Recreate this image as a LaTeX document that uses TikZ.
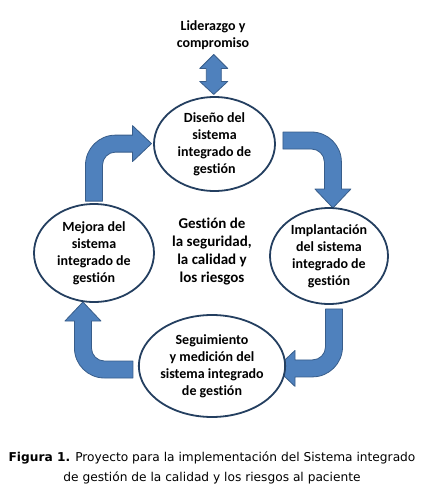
\documentclass[tikz,border=0pt]{standalone}
\usepackage{fontspec}
\setmainfont{Carlito}[Ligatures=CommonOff]
\newfontfamily\capfont{DejaVu Sans}
\usepackage{tikz}
\usetikzlibrary{positioning,calc,shapes.geometric,backgrounds}
\definecolor{cycleblue}{HTML}{4F81BD}
\definecolor{cycleedge}{HTML}{385D8A}
\definecolor{cyclenavy}{HTML}{243F60}

\begin{document}
\begin{tikzpicture}[
  x=1pt, y=1pt,
  phase/.style={ellipse, draw=cyclenavy, line width=1.8pt, fill=white, inner sep=0pt, align=center, font=\fontsize{14}{17}\selectfont\bfseries},
  note/.style={align=center, font=\fontsize{14}{16.5}\selectfont\bfseries},
  blockarr/.style={fill=cycleblue, draw=cycleedge, line width=0.8pt, line join=round},
  pics/bentarrow/.style 2 args={code={
    \path[blockarr] (8.5,0) -- (-8.5,0) -- (-8.5,#1-21.5)
      .. controls (-8.5,#1-4.94) and (4.94,#1+8.5) .. (21.5,#1+8.5)
      -- (#2-19,#1+8.5) -- (#2-19,#1+18) -- (#2,#1) -- (#2-19,#1-18) -- (#2-19,#1-8.5)
      -- (21.5,#1-8.5) .. controls (14.32,#1-8.5) and (8.5,#1-14.32) .. (8.5,#1-21.5) -- cycle;
  }},
  pics/updown/.style={code={
    \path[blockarr] (0,20) -- (14,6) -- (7.5,6) -- (7.5,-7) -- (14,-7) -- (0,-20)
      -- (-14,-7) -- (-7.5,-7) -- (-7.5,6) -- (-14,6) -- cycle;
  }}
]
\useasboundingbox (0,0) rectangle (428,-493);

\node[note] (lider) at (213,-35) {Liderazgo y\\compromiso};

\node[phase, minimum width=121, minimum height=94] (diseno) at (214.5,-144) {Diseño del\\sistema\\integrado de\\gestión};
\node[phase, minimum width=120, minimum height=98] (mejora) at (94,-253) {Mejora del\\sistema\\integrado de\\gestión};
\node[phase, minimum width=118, minimum height=96] (implant) at (329,-256) {Implantación\\del sistema\\integrado de\\gestión};
\node[phase, minimum width=124, minimum height=102] (seguim) at (212,-366) {Seguimiento\\y medición del\\sistema integrado\\de gestión};

\node[align=center, font=\fontsize{15}{18.3}\selectfont\bfseries] (centro) at (212,-251.5) {Gestión de\\la seguridad,\\la calidad y\\los riesgos};

% block arrows sit behind the ellipses
\begin{pgfonlayer}{background}
  \pic at ($(lider.south)!0.5!(diseno.north)$) {updown};
  \pic at ([yshift=2pt]mejora.north) {bentarrow={57.5}{57.5}};
  \pic[rotate=-90] at ([xshift=7pt, yshift=3.5pt]diseno.east) {bentarrow={50}{67.5}};
  \pic[rotate=180] at ([xshift=5pt, yshift=-4pt]implant.south) {bentarrow={59.5}{58}};
  \pic[rotate=90] at ([xshift=-5pt, yshift=-3.5pt]seguim.west) {bentarrow={50}{67.5}};
\end{pgfonlayer}

\node[align=center, font=\capfont\fontsize{12.2}{20}\selectfont] (caption) at (212,-468)
  {\textbf{Figura 1.} Proyecto para la implementación del Sistema integrado\\de gestión de la calidad y los riesgos al paciente};
\end{tikzpicture}
\end{document}
